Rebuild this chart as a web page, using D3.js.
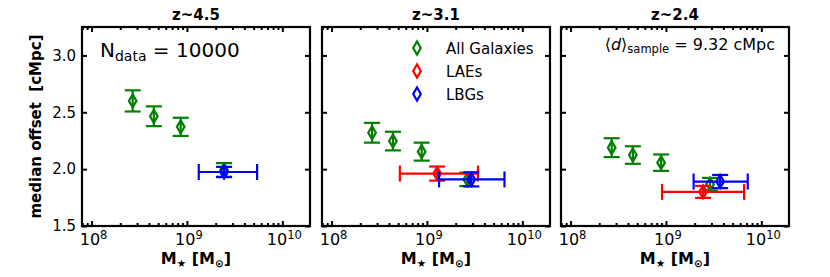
<!DOCTYPE html>
<html>
<head>
<meta charset="utf-8">
<script src="https://cdn.jsdelivr.net/npm/d3@7"></script>
<style>
  body { margin: 0; background: #fff; }
  text { font-family: "DejaVu Sans", sans-serif; }
</style>
</head>
<body>
<script>
// Panel titles and tick values
var titles = ["z~4.5", "z~3.1", "z~2.4"];
var yTicks = [1.5, 2.0, 2.5, 3.0];
var xDecades = [8, 9, 10];

// All galaxies, one row per panel
var allMass = [
  [2.7e8, 4.5e8, 8.6e8, 2.45e9],
  [2.66e8, 4.4e8, 8.8e8, 2.65e9],
  [2.7e8, 4.5e8, 8.9e8, 2.9e9],
];
var allOffset = [
  [2.6, 2.465, 2.372, 1.993],
  [2.32, 2.247, 2.154, 1.91],
  [2.189, 2.124, 2.057, 1.868],
];
var allErr = [
  [0.093, 0.087, 0.08, 0.06],
  [0.087, 0.082, 0.079, 0.059],
  [0.083, 0.077, 0.072, 0.055],
];

// LAEs (none in the first panel)
var laeMass = [null, 1.28e9, 2.45e9];
var laeLo = [null, 5.2e8, 9.1e8];
var laeHi = [null, 3.43e9, 6.6e9];
var laeOffset = [null, 1.961, 1.8];
var laeErr = [null, 0.062, 0.053];

// LBGs
var lbgMass = [2.45e9, 2.92e9, 3.7e9];
var lbgLo = [1.33e9, 1.34e9, 1.95e9];
var lbgHi = [5.44e9, 6.5e9, 7.2e9];
var lbgOffset = [1.975, 1.91, 1.891];
var lbgErr = [0.045, 0.062, 0.058];

var legendLabels = ["All Galaxies", "LAEs", "LBGs"];
var colors = ["green", "red", "blue"];

var W = 830, H = 277;
var panelLeft = [82, 322, 561];
var pw = 228, plotTop = 27, plotBottom = 226;
var ph = plotBottom - plotTop;

var svg = d3.select("body").append("svg").attr("width", W).attr("height", H);

var x = d3.scaleLog().domain([Math.pow(10, 7.9), Math.pow(10, 10.29)]).range([0, pw]);
var y = d3.scaleLinear().domain([1.5, 3.25]).range([ph, 0]);

// minor log ticks
var minors = [];
for (var e = 7; e <= 10; e++) {
  for (var m = 2; m <= 9; m++) {
    var v = m * Math.pow(10, e);
    if (v > x.domain()[0] && v < x.domain()[1]) minors.push(v);
  }
}
var majors = xDecades.map(function (d) { return Math.pow(10, d); });

function diamond(g, cx, cy, color) {
  var w = 3.8, h = 6.5;
  g.append("path")
    .attr("d", `M${cx},${cy - h}L${cx + w},${cy}L${cx},${cy + h}L${cx - w},${cy}Z`)
    .attr("fill", "none")
    .attr("stroke", color)
    .attr("stroke-width", 2.2);
}

function errPoint(g, mass, off, yerr, lo, hi, color) {
  var cx = x(mass), cy = y(off), cap = 8, sw = 2.2;
  if (lo != null) {
    g.append("line").attr("x1", x(lo)).attr("x2", x(hi)).attr("y1", cy).attr("y2", cy)
      .attr("stroke", color).attr("stroke-width", sw);
    [lo, hi].forEach(function (v) {
      g.append("line").attr("x1", x(v)).attr("x2", x(v)).attr("y1", cy - cap).attr("y2", cy + cap)
        .attr("stroke", color).attr("stroke-width", sw);
    });
  }
  g.append("line").attr("x1", cx).attr("x2", cx).attr("y1", y(off - yerr)).attr("y2", y(off + yerr))
    .attr("stroke", color).attr("stroke-width", sw);
  [off - yerr, off + yerr].forEach(function (v) {
    g.append("line").attr("x1", cx - cap).attr("x2", cx + cap).attr("y1", y(v)).attr("y2", y(v))
      .attr("stroke", color).attr("stroke-width", sw);
  });
  diamond(g, cx, cy, color);
}

titles.forEach(function (t, i) {
  var g = svg.append("g").attr("transform", `translate(${panelLeft[i]},${plotTop})`);

  // data
  allMass[i].forEach(function (mv, j) {
    errPoint(g, mv, allOffset[i][j], allErr[i][j], null, null, colors[0]);
  });
  if (laeMass[i] != null) errPoint(g, laeMass[i], laeOffset[i], laeErr[i], laeLo[i], laeHi[i], colors[1]);
  errPoint(g, lbgMass[i], lbgOffset[i], lbgErr[i], lbgLo[i], lbgHi[i], colors[2]);

  // axes with inward ticks
  g.append("g").attr("transform", `translate(0,${ph})`)
    .call(d3.axisBottom(x).tickValues(majors).tickSize(-5).tickFormat(""));
  g.append("g").attr("transform", `translate(0,${ph})`)
    .call(d3.axisBottom(x).tickValues(minors).tickSize(-3).tickFormat(""));
  g.append("g").call(d3.axisTop(x).tickValues(majors).tickSize(-5).tickFormat(""));
  g.append("g").call(d3.axisTop(x).tickValues(minors).tickSize(-3).tickFormat(""));
  g.append("g").call(d3.axisLeft(y).tickValues(yTicks).tickSize(-5).tickPadding(6)
    .tickFormat(i === 0 ? d3.format(".1f") : ""));
  g.append("g").attr("transform", `translate(${pw},0)`)
    .call(d3.axisRight(y).tickValues(yTicks).tickSize(-5).tickFormat(""));
  g.selectAll(".domain").remove();
  g.selectAll(".tick line").attr("stroke", "#000").attr("stroke-width", 2);
  g.selectAll(".tick text").attr("font-size", 15).attr("fill", "#000")
    .attr("font-family", "DejaVu Sans");

  // 10^n labels
  xDecades.forEach(function (d) {
    var tx = g.append("text").attr("x", x(Math.pow(10, d)) + 2).attr("y", ph + 19)
      .attr("text-anchor", "middle").attr("font-size", 16);
    tx.append("tspan").text("10");
    tx.append("tspan").attr("font-size", 11.5).attr("dy", -6.5).text(d);
  });

  // frame
  g.append("rect").attr("width", pw).attr("height", ph)
    .attr("fill", "none").attr("stroke", "#000").attr("stroke-width", 2.2);

  // title
  svg.append("text").attr("x", panelLeft[i] + pw / 2).attr("y", 20)
    .attr("text-anchor", "middle").attr("font-size", 15).attr("font-weight", "bold").text(t);

  // x label
  var xl = svg.append("text").attr("x", panelLeft[i] + pw / 2).attr("y", 264)
    .attr("text-anchor", "middle").attr("font-size", 16).attr("font-weight", "bold");
  xl.append("tspan").text("M");
  xl.append("tspan").attr("font-size", 10.5).attr("dy", 3).text("★");
  xl.append("tspan").attr("dy", -3).text(" [M");
  xl.append("tspan").attr("font-size", 10.5).attr("dy", 3).text("⊙");
  xl.append("tspan").attr("dy", -3).text("]");
});

// y label
svg.append("text")
  .attr("transform", `translate(41,${(plotTop + plotBottom) / 2}) rotate(-90)`)
  .attr("text-anchor", "middle").attr("font-size", 15).attr("font-weight", "bold")
  .style("white-space", "pre")
  .text("median offset  [cMpc]");

// N_data annotation
var nd = svg.append("text").attr("x", 100).attr("y", 57).attr("font-size", 20);
nd.append("tspan").text("N");
nd.append("tspan").attr("font-size", 14).attr("dy", 4).text("data");
nd.append("tspan").attr("dy", -4).style("white-space", "pre").text(" = 10000");

// <d>_sample annotation
var ds = svg.append("text").attr("x", 775).attr("y", 50).attr("font-size", 16)
  .attr("text-anchor", "end").style("white-space", "pre");
ds.append("tspan").text("⟨");
ds.append("tspan").attr("font-style", "italic").text("d");
ds.append("tspan").text("⟩");
ds.append("tspan").attr("font-size", 11.5).attr("dy", 3).text("sample");
ds.append("tspan").attr("dy", -3).text(" = 9.32 cMpc");

// legend in middle panel
var lg = svg.append("g");
legendLabels.forEach(function (l, i) {
  var cy = 48 + i * 23;
  diamond(lg, 417, cy, colors[i]);
  lg.append("text").attr("x", 446).attr("y", cy + 5.5).attr("font-size", 15).text(l);
});
</script>
</body>
</html>
